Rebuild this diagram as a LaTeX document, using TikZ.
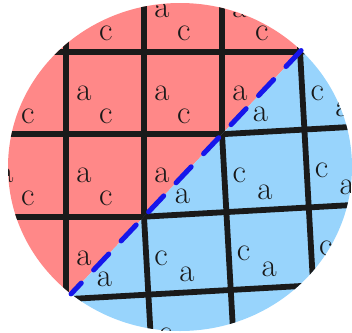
\documentclass[tikz,border=0pt]{standalone}
\usepackage{fontspec}
\usetikzlibrary{calc}
\definecolor{redfill}{RGB}{255,136,136}
\definecolor{bluefill}{RGB}{152,212,252}
\definecolor{gridcol}{RGB}{26,26,26}
\definecolor{wallcol}{RGB}{22,22,235}
% place letter #2 named #1 at pixel (#3,#4) if visible on side #5 (-1 red, 1 blue)
\newcommand\placeltr[5]{%
  \pgfmathtruncatemacro{\vis}{and(((#3-180)/172)^2+((#4-167)/164)^2<1.1, #5*((#3-144)*0.825+(#4-216.7)*0.78)>0)}%
  \ifnum\vis=1 \node[lettr] (#1) at (#3,#4) {#2};\fi}
\begin{document}
\begin{tikzpicture}[x=1pt,y=-1pt,
  gridline/.style={draw=gridcol, line width=5.8pt},
  lettr/.style={inner sep=0pt, font=\fontsize{33}{33}\selectfont, text=black!90},
  wall/.style={draw=wallcol, line width=5pt, line cap=round, dash pattern=on 22pt off 18pt}]
\useasboundingbox (0,0) rectangle (352,332);
\coordinate (C) at (180,167);
\coordinate (P0) at (144,216.7);
\coordinate (P1) at (222,134.2);
\coordinate (W1) at ($(P0)!-4!(P1)$);
\coordinate (W2) at ($(P0)!5!(P1)$);
\coordinate (WT) at ($(P0)!2.0141!(P1)$);
\coordinate (WB) at ($(P0)!-0.9355!(P1)$);
\begin{scope}
  \clip (C) ellipse [x radius=172, y radius=164];
  % red domain
  \begin{scope}
    \clip (W1) -- (W2) -- (-600,-600) -- cycle;
    \fill[redfill] (-10,-10) rectangle (400,400);
    \begin{scope}[shift={(66,51.7)}, x={(78pt,0pt)}, y={(0pt,-82.5pt)}]
      \foreach \i in {-2,...,5} \draw[gridline] (\i,-3) -- (\i,6);
      \foreach \j in {-2,...,5} \draw[gridline] (-3,\j) -- (6,\j);
    \end{scope}
    \foreach \i in {-1,...,4} \foreach \j in {-1,...,4} {
      \pgfmathsetmacro{\ax}{66+78*(\i+0.23)}\pgfmathsetmacro{\ay}{51.7+82.5*(\j+0.5)}
      \placeltr{ra\i\j}{a}{\ax}{\ay}{-1}
      \pgfmathsetmacro{\cx}{66+78*(\i+0.51)}\pgfmathsetmacro{\cy}{51.7+82.5*(\j+0.78)}
      \placeltr{rc\i\j}{c}{\cx}{\cy}{-1}
    }
  \end{scope}
  % blue domain
  \begin{scope}
    \clip (W1) -- (W2) -- (900,900) -- cycle;
    \fill[bluefill] (-10,-10) rectangle (400,400);
    \begin{scope}[shift={(144,216.7)}, x={(82.377pt,4.631pt)}, y={(4.364pt,-77.885pt)}]
      \foreach \m in {-5,...,5} \draw[gridline] (\m,-6) -- (\m,6);
      \foreach \n in {-5,...,5} \draw[gridline] (-6,\n) -- (6,\n);
    \end{scope}
    \foreach \m in {-4,...,4} \foreach \n in {-4,...,4} {
      \pgfmathsetmacro{\cx}{144+82.377*(\m+0.18)+4.364*(\n+0.54)}\pgfmathsetmacro{\cy}{216.7-4.631*(\m+0.18)+77.885*(\n+0.54)}
      \placeltr{bc\m\n}{c}{\cx}{\cy}{1}
      \pgfmathsetmacro{\ax}{144+82.377*(\m+0.48)+4.364*(\n+0.77)}\pgfmathsetmacro{\ay}{216.7-4.631*(\m+0.48)+77.885*(\n+0.77)}
      \placeltr{ba\m\n}{a}{\ax}{\ay}{1}
    }
  \end{scope}
\end{scope}
\draw[wall] (WT) -- (WB);
\end{tikzpicture}
\end{document}
